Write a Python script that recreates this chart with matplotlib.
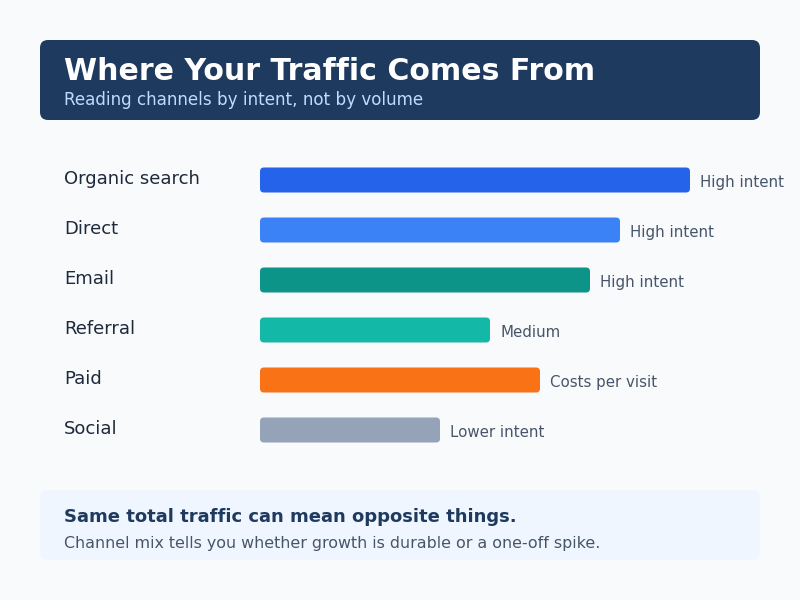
import matplotlib
matplotlib.use("Agg")
import matplotlib.pyplot as plt
from matplotlib.patches import FancyBboxPatch

# chart data
channels = ["Organic search", "Direct", "Email", "Referral", "Paid", "Social"]
share = [43, 36, 33, 23, 28, 18]
notes = ["High intent", "High intent", "High intent", "Medium", "Costs per visit", "Lower intent"]
colors = ["#2563eb", "#3b82f6", "#0d9488", "#14b8a6", "#f97316", "#94a3b8"]

title = "Where Your Traffic Comes From"
subtitle = "Reading channels by intent, not by volume"
takeaway = "Same total traffic can mean opposite things."
takeaway_sub = "Channel mix tells you whether growth is durable or a one-off spike."

W, H = 800, 600
fig = plt.figure(figsize=(W / 100, H / 100), dpi=100)
fig.patch.set_facecolor("#f8fafc")

# background layer in pixel coordinates
bg = fig.add_axes([0, 0, 1, 1])
bg.set_xlim(0, W)
bg.set_ylim(H, 0)
bg.axis("off")

bg.add_patch(FancyBboxPatch((40, 40), 720, 80, boxstyle="round,pad=0,rounding_size=8",
                            facecolor="#1e3a5f", edgecolor="none"))
bg.text(64, 80, title, fontsize=21.6, fontweight="bold", color="white", va="baseline")
bg.text(64, 105, subtitle, fontsize=12.1, color="#bfdbfe", va="baseline")

bg.add_patch(FancyBboxPatch((40, 490), 720, 70, boxstyle="round,pad=0,rounding_size=8",
                            facecolor="#eff6ff", edgecolor="none"))
bg.text(64, 522, takeaway, fontsize=13, fontweight="bold", color="#1e3a5f", va="baseline")
bg.text(64, 548, takeaway_sub, fontsize=11.4, color="#475569", va="baseline")

# bar panel: x from 260px to 760px, rows 50px apart starting at 155px
ax = fig.add_axes([260 / W, (H - 455) / H, 500 / W, 300 / H])
ax.set_facecolor("none")
ax.set_xlim(0, 50)
ax.set_ylim(len(channels) - 0.5, -0.5)
ax.axis("off")

bars = ax.barh(range(len(channels)), share, height=0.5, color=colors)
# swap the square bars for rounded ones
for b in bars:
    x0, y0 = b.get_x(), b.get_y()
    rb = FancyBboxPatch((x0, y0), b.get_width(), b.get_height(),
                        boxstyle="round,pad=0,rounding_size=0.4", mutation_aspect=0.2,
                        facecolor=b.get_facecolor(), edgecolor="none")
    b.set_visible(False)
    ax.add_patch(rb)

for i, (name, v, note) in enumerate(zip(channels, share, notes)):
    ax.annotate(name, xy=(64, i), xycoords=("figure pixels", "data"),
                xytext=(0, -4.5), textcoords="offset pixels",
                fontsize=13, color="#1e293b", va="baseline", ha="left")
    ax.annotate(note, xy=(v, i), xytext=(10, -7), textcoords="offset pixels",
                fontsize=10.8, color="#475569", va="baseline", ha="left")

fig.savefig("out.png", dpi=100, facecolor=fig.get_facecolor())
